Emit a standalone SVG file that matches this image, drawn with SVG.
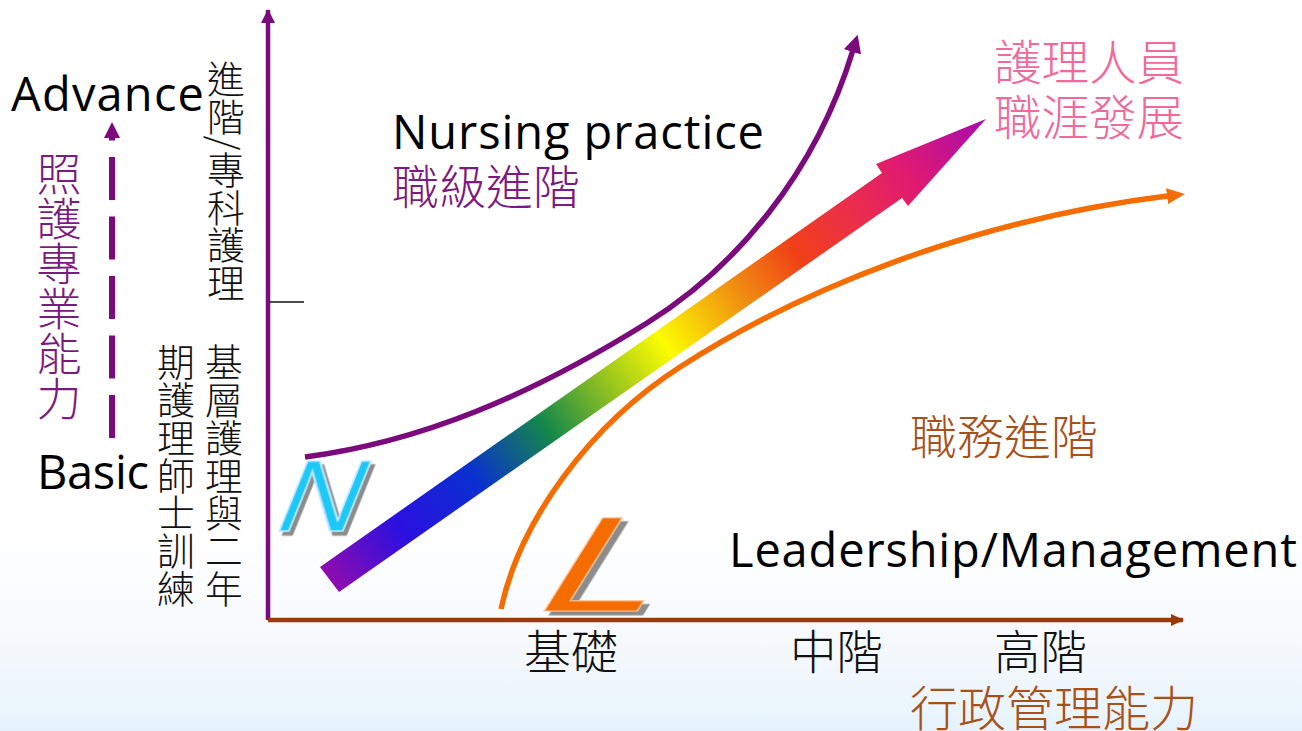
<svg xmlns="http://www.w3.org/2000/svg" width="1302" height="731" viewBox="0 0 1302 731">
<style>
.l{font-family:"Open Sans","Noto Sans",sans-serif;fill:#000;font-size:47px}
.c{font-family:"Noto Sans CJK TC","Noto Sans CJK SC",sans-serif;font-weight:300}
.v{writing-mode:vertical-rl;font-size:37.8px;fill:#111}
.curve{fill:none;stroke-linecap:butt}
</style>
<defs>
<linearGradient id="bg" x1="0" y1="0" x2="0" y2="1"><stop offset="0" stop-color="#fff"/><stop offset=".72" stop-color="#fff"/><stop offset=".86" stop-color="#f8fafd"/><stop offset="1" stop-color="#e6f3fc"/></linearGradient>
<linearGradient id="rb" gradientUnits="userSpaceOnUse" x1="330" y1="580" x2="986" y2="119">
<stop offset="0" stop-color="#8f0cb0"/><stop offset=".11" stop-color="#2a10e0"/><stop offset=".22" stop-color="#0a30d0"/><stop offset=".33" stop-color="#15884a"/><stop offset=".42" stop-color="#90c020"/><stop offset=".51" stop-color="#fcfc00"/><stop offset=".62" stop-color="#f09010"/><stop offset=".71" stop-color="#f04018"/><stop offset=".79" stop-color="#ec2f48"/><stop offset=".88" stop-color="#e01a70"/><stop offset="1" stop-color="#a80cb0"/>
</linearGradient>
<filter id="sh" x="-20%" y="-20%" width="140%" height="140%"><feDropShadow dx="5" dy="4" stdDeviation="0" flood-color="#8c8c8c"/></filter>
<marker id="ap" markerUnits="userSpaceOnUse" markerWidth="16" markerHeight="16" refX="13" refY="7" orient="auto"><path d="M0 0L14 7L0 14z" fill="#7b0a7d"/></marker>
<marker id="ad" markerUnits="userSpaceOnUse" markerWidth="20" markerHeight="20" refX="2" refY="9" orient="auto"><path d="M0 0L18 9L0 18z" fill="#7b0a7d"/></marker>
<marker id="ao" markerUnits="userSpaceOnUse" markerWidth="20" markerHeight="20" refX="4" refY="8" orient="auto"><path d="M0 0L18 8L0 16z" fill="#f56c00"/></marker>
<marker id="ab" markerUnits="userSpaceOnUse" markerWidth="16" markerHeight="16" refX="12" refY="6" orient="auto"><path d="M0 0L13 6L0 12z" fill="#9a3a0a"/></marker>
</defs>
<rect width="1302" height="731" fill="url(#bg)"/>
<g id="connectors">
<path d="M268 620V10" stroke="#7b0a7d" stroke-width="4.5" fill="none" marker-end="url(#ap)"/>
<path d="M268 620H1183" stroke="#9a3a0a" stroke-width="4.5" fill="none" marker-end="url(#ab)"/>
<path d="M269 302H304" stroke="#111" stroke-width="1.5" fill="none"/>
<path d="M112 438V138" stroke="#7b0a7d" stroke-width="6" stroke-dasharray="43 16.5" fill="none"/>
<path d="M112 122L120 138H104z" fill="#7b0a7d"/>
<path class="curve" d="M305 457C420 442 530 396 647 323C735 268 815 175 853 50" stroke="#7b0a7d" stroke-width="5.5" marker-end="url(#ad)"/>
<path class="curve" d="M501 609C520 520 590 425 680 367C800 290 970 220 1171 195.6" stroke="#f56c00" stroke-width="5.500" marker-end="url(#ao)"/>
<path id="rainbow" d="M320 567L882 173L876 164L986 119L908 206L902 198L339 592z" fill="url(#rb)"/>
</g>
<g id="advance"><text class="l" x="11" y="110.500" textLength="193" lengthAdjust="spacing">Advance</text></g>
<g id="basic"><text class="l" x="37" y="488.500" textLength="112" lengthAdjust="spacing">Basic</text></g>
<g id="care-skill"><text class="c v" x="59" y="151" style="font-size:45px;fill:#7b1a80">照護專業能力</text></g>
<g id="advanced-label"><text class="c v" x="226" y="60">進階/專科護理</text></g>
<g id="base-label"><text class="c v" x="224" y="343">基層護理與二年</text></g>
<g id="period-label"><text class="c v" x="176" y="343">期護理師士訓練</text></g>
<g id="nursing"><text class="l" x="392" y="149" textLength="372" lengthAdjust="spacing">Nursing practice</text>
<text class="c" x="392" y="204" font-size="47" fill="#7b1a80">職級進階</text></g>
<g id="career"><text class="c" x="994" y="80" font-size="47.5" fill="#f0699a">護理人員</text>
<text class="c" x="994" y="135" font-size="47.5" fill="#f0699a">職涯發展</text></g>
<g id="position"><text class="c" x="910" y="454" font-size="47" fill="#a8501a">職務進階</text></g>
<g id="leadership"><text class="l" x="729" y="566.500" textLength="568" lengthAdjust="spacing">Leadership/Management</text></g>
<g id="n-mark"><text x="0" y="0" transform="translate(270 531) skewX(-22)" font-family="Liberation Sans,sans-serif" font-size="101" fill="#1fc8f8" stroke="#bfe9fb" stroke-width="1.5" filter="url(#sh)" textLength="82" lengthAdjust="spacingAndGlyphs">N</text></g>
<g id="l-mark"><text x="0" y="0" transform="translate(527 611) skewX(-32) scale(1.55 1)" font-family="Liberation Sans,sans-serif" font-size="136" fill="#f56c00" stroke="#fbc898" stroke-width="1" filter="url(#sh)">L</text></g>
<g id="x-basic"><text class="c" x="524" y="669" font-size="47" fill="#111">基礎</text></g>
<g id="x-mid"><text class="c" x="790" y="669" font-size="46.5" fill="#111">中階</text></g>
<g id="x-high"><text class="c" x="994" y="669" font-size="46.5" fill="#111">高階</text></g>
<g id="x-title"><text class="c" x="910" y="726" font-size="48" fill="#a8501a">行政管理能力</text></g>
</svg>
